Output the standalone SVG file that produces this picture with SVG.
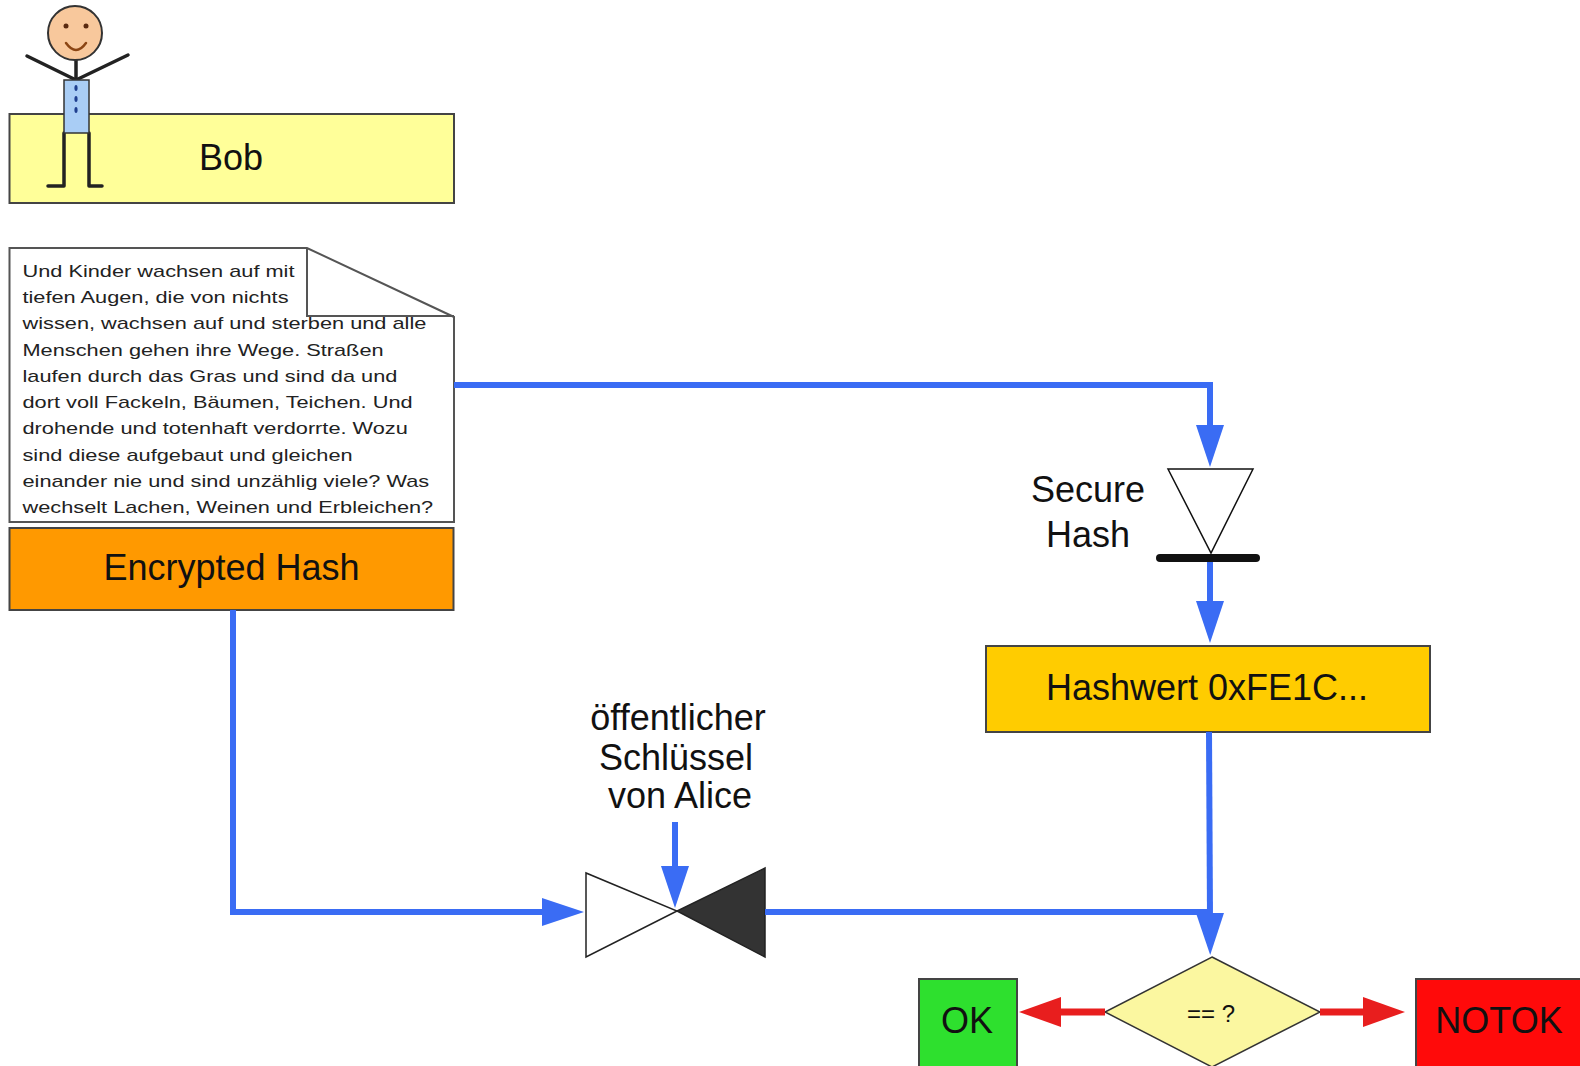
<svg xmlns="http://www.w3.org/2000/svg" width="1580" height="1066" viewBox="0 0 1580 1066">
  <style>
    .box { stroke: #444; stroke-width: 2; }
    .lbl { font-family: "Liberation Sans", Arial, sans-serif; font-size: 36px; fill: #111; text-anchor: middle; }
    .doc { font-family: "Liberation Sans", Arial, sans-serif; font-size: 17px; fill: #222; }
    .blue { fill: none; stroke: #3a6cf4; stroke-width: 6; }
    .red { fill: none; stroke: #e81e1e; stroke-width: 7; }
    .limb { fill: none; stroke: #222; stroke-width: 3.5; stroke-linecap: round; stroke-linejoin: round; }
  </style>
  <defs>
    <marker id="arrowBlue" markerUnits="userSpaceOnUse" markerWidth="42" markerHeight="28" refX="4" refY="14" orient="auto" overflow="visible">
      <path d="M0,0 L42,14 L0,28 Z" fill="#3a6cf4"/>
    </marker>
    <marker id="arrowRed" markerUnits="userSpaceOnUse" markerWidth="42" markerHeight="30" refX="4" refY="15" orient="auto" overflow="visible">
      <path d="M0,0 L42,15 L0,30 Z" fill="#e81e1e"/>
    </marker>
  </defs>

  <rect width="1580" height="1066" fill="#ffffff"/>

  <!-- Bob: name box with stick figure -->
  <g id="bob">
    <rect class="box" x="9.5" y="114" width="444.5" height="89" fill="#ffff99"/>
    <text class="lbl" x="231" y="170">Bob</text>
    <g id="bob-figure">
      <line class="limb" x1="27" y1="56" x2="76" y2="80"/>
      <line class="limb" x1="128" y1="55" x2="76" y2="80"/>
      <line class="limb" x1="76" y1="60" x2="76" y2="80"/>
      <polyline class="limb" points="64,133 64,186 48,186"/>
      <polyline class="limb" points="89,133 89,186 102,186"/>
      <rect x="64" y="80" width="25" height="53" fill="#a9cdf5" stroke="#333" stroke-width="1.5"/>
      <ellipse cx="76" cy="88" rx="1.6" ry="3" fill="#1f3f8f"/>
      <ellipse cx="76" cy="99" rx="1.6" ry="3" fill="#1f3f8f"/>
      <ellipse cx="76" cy="110" rx="1.6" ry="3" fill="#1f3f8f"/>
      <circle cx="75" cy="33" r="27" fill="#f8c89c" stroke="#333" stroke-width="2"/>
      <circle cx="66" cy="26" r="2.5" fill="#5a2a10"/>
      <circle cx="86" cy="26" r="2.5" fill="#5a2a10"/>
      <path d="M66,43 Q76,57 86,43" fill="none" stroke="#8b4513" stroke-width="2.5" stroke-linecap="round"/>
    </g>
  </g>

  <!-- signed document with dog-eared corner -->
  <g id="document">
    <path d="M9.5,248 L307,248 L454,317 L454,522 L9.5,522 Z" fill="#ffffff" stroke="#555" stroke-width="2"/>
    <g transform="matrix(1.28 0 0 1 22.5 0)">
      <text class="doc" x="0" y="277">Und Kinder wachsen auf mit</text>
      <text class="doc" x="0" y="303.3">tiefen Augen, die von nichts</text>
      <text class="doc" x="0" y="329.5">wissen, wachsen auf und sterben und alle</text>
      <text class="doc" x="0" y="355.8">Menschen gehen ihre Wege. Straßen</text>
      <text class="doc" x="0" y="382">laufen durch das Gras und sind da und</text>
      <text class="doc" x="0" y="408.3">dort voll Fackeln, Bäumen, Teichen. Und</text>
      <text class="doc" x="0" y="434.5">drohende und totenhaft verdorrte. Wozu</text>
      <text class="doc" x="0" y="460.8">sind diese aufgebaut und gleichen</text>
      <text class="doc" x="0" y="487">einander nie und sind unzählig viele? Was</text>
      <text class="doc" x="0" y="513.3">wechselt Lachen, Weinen und Erbleichen?</text>
    </g>
    <polyline points="307,248 307,316 454,316" fill="none" stroke="#555" stroke-width="2"/>
  </g>

  <g id="encrypted-hash">
    <rect class="box" x="9.5" y="528" width="444" height="82" fill="#ff9900"/>
    <text class="lbl" x="231.5" y="580">Encrypted Hash</text>
  </g>

  <!-- hash function symbol -->
  <g id="secure-hash">
    <polygon points="1168,469 1253,469 1211,553" fill="#ffffff" stroke="#111" stroke-width="1.5"/>
    <line x1="1160" y1="558" x2="1256" y2="558" stroke="#111" stroke-width="8" stroke-linecap="round"/>
    <text class="lbl" x="1088" y="502">Secure</text>
    <text class="lbl" x="1088" y="547">Hash</text>
  </g>

  <g id="hashwert">
    <rect class="box" x="986" y="646" width="444" height="86" fill="#ffcc00"/>
    <text class="lbl" x="1207" y="700">Hashwert 0xFE1C...</text>
  </g>

  <!-- decryption valve with the public key -->
  <g id="public-key">
    <polygon points="586,873 586,957 677,911" fill="#ffffff" stroke="#222" stroke-width="1.5"/>
    <polygon points="765,868 765,957 677,911" fill="#333333" stroke="#222" stroke-width="1.5"/>
    <text class="lbl" x="678" y="730">öffentlicher</text>
    <text class="lbl" x="676" y="770">Schlüssel</text>
    <text class="lbl" x="680" y="808">von Alice</text>
  </g>

  <g id="compare">
    <polygon points="1212,957 1320,1012 1212,1067 1105,1012" fill="#fbf7a0" stroke="#333" stroke-width="1.5"/>
    <text class="lbl" x="1211" y="1022" style="font-size:24px">== ?</text>
  </g>

  <g id="ok">
    <rect class="box" x="919" y="979" width="98" height="100" fill="#2ee02e"/>
    <text class="lbl" x="967" y="1033">OK</text>
  </g>

  <g id="notok">
    <rect class="box" x="1416" y="979" width="170" height="100" fill="#ff0a0a"/>
    <text class="lbl" x="1499" y="1033">NOTOK</text>
  </g>

  <!-- connectors -->
  <g id="connectors">
    <path class="blue" d="M454,385 L1210,385 L1210,429" marker-end="url(#arrowBlue)"/>
    <path class="blue" d="M1210,562 L1210,605" marker-end="url(#arrowBlue)"/>
    <path class="blue" d="M1209,732 L1210,917" marker-end="url(#arrowBlue)"/>
    <path class="blue" d="M765,912 L1210,912"/>
    <path class="blue" d="M233,610 L233,912 L546,912" marker-end="url(#arrowBlue)"/>
    <path class="blue" d="M675,822 L675,870" marker-end="url(#arrowBlue)"/>
    <path class="red" d="M1105,1012 L1057,1012" marker-end="url(#arrowRed)"/>
    <path class="red" d="M1320,1012 L1367,1012" marker-end="url(#arrowRed)"/>
  </g>
</svg>
